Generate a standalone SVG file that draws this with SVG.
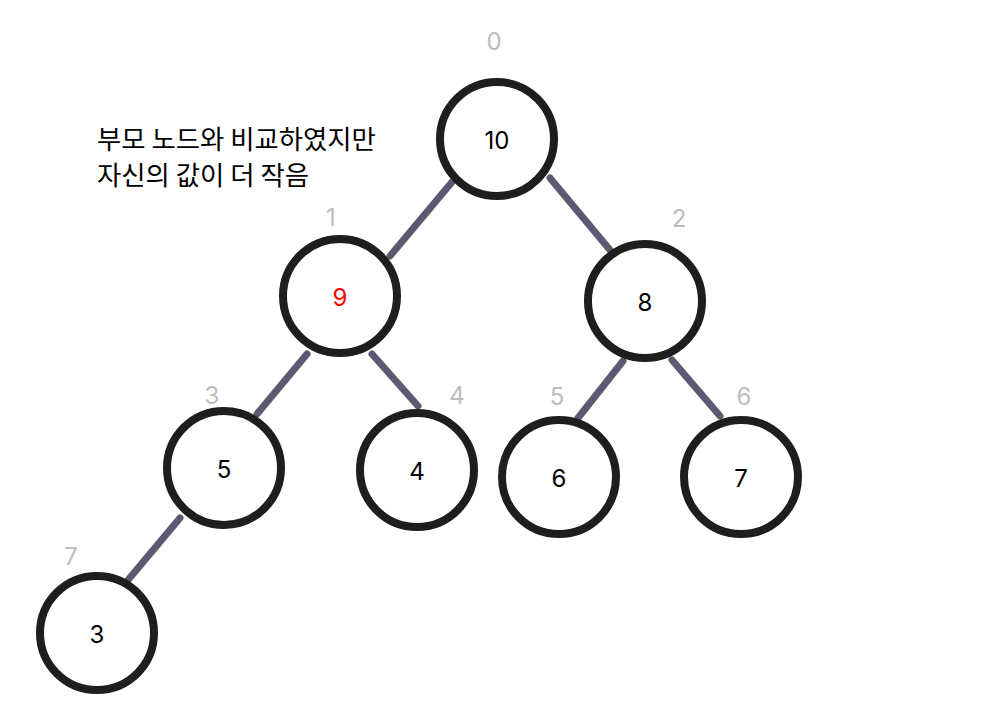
<svg xmlns="http://www.w3.org/2000/svg" width="982" height="714" viewBox="0 0 982 714">
<style>
.node circle{fill:#fff;stroke:#1e1e1e;stroke-width:8}
.val{font-family:Inter,"Liberation Sans",sans-serif;font-size:24px;fill:#000;text-anchor:middle;dominant-baseline:central}
.idx{font-family:Inter,"Liberation Sans",sans-serif;font-size:24px;fill:#bdbdbd;text-anchor:middle;dominant-baseline:central}
.edges line{stroke:#5f5873;stroke-width:7;stroke-linecap:round}
.note{font-family:"Noto Sans CJK KR",sans-serif;font-size:26.4px;fill:#000}
</style>
<rect width="982" height="714" fill="#fff"/>
<g id="connectors" class="edges">
<line x1="452" y1="182" x2="390" y2="256"/>
<line x1="550" y1="178" x2="610" y2="250"/>
<line x1="307" y1="354" x2="257" y2="414"/>
<line x1="372" y1="354" x2="418" y2="406"/>
<line x1="623" y1="361" x2="578" y2="418"/>
<line x1="672" y1="360" x2="720" y2="416"/>
<line x1="180" y1="518" x2="128" y2="580"/>
</g>
<g id="node0" class="node"><circle cx="497" cy="139" r="57"/><text class="val" x="497" y="140">10</text><text class="idx" x="494" y="41">0</text></g>
<g id="node1" class="node"><circle cx="340" cy="296" r="57"/><text class="val" x="340" y="297" style="fill:#ff0000">9</text><text class="idx" x="331" y="217">1</text></g>
<g id="node2" class="node"><circle cx="645" cy="301" r="57"/><text class="val" x="645" y="302">8</text><text class="idx" x="679" y="218">2</text></g>
<g id="node3" class="node"><circle cx="224" cy="468" r="57"/><text class="val" x="224" y="469">5</text><text class="idx" x="212" y="395">3</text></g>
<g id="node4" class="node"><circle cx="417" cy="470" r="57"/><text class="val" x="417" y="471">4</text><text class="idx" x="457" y="395">4</text></g>
<g id="node5" class="node"><circle cx="559" cy="477" r="57"/><text class="val" x="559" y="478">6</text><text class="idx" x="557" y="396">5</text></g>
<g id="node6" class="node"><circle cx="741" cy="477" r="57"/><text class="val" x="741" y="478">7</text><text class="idx" x="744" y="396">6</text></g>
<g id="node7" class="node"><circle cx="97" cy="633" r="57"/><text class="val" x="97" y="634">3</text><text class="idx" x="71" y="556">7</text></g>
<g id="note">
<text class="note" x="97" y="149">부모 노드와 비교하였지만</text>
<text class="note" x="97" y="185">자신의 값이 더 작음</text>
</g>
</svg>
